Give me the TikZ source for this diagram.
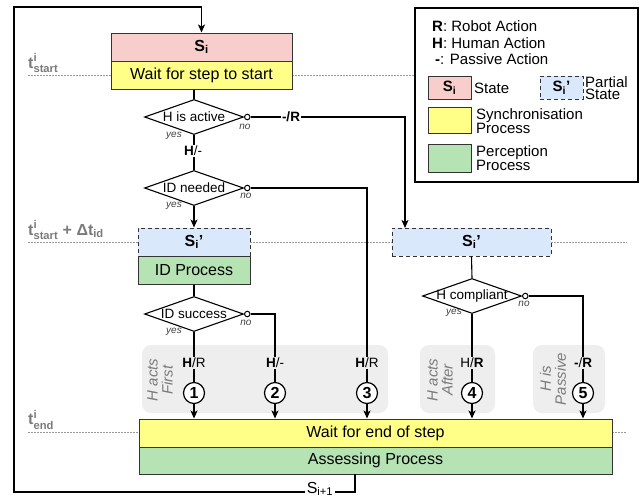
\documentclass[tikz,border=0pt]{standalone}
\usepackage{fontspec}
\setmainfont{Liberation Sans}
\usepackage{amsmath}
\usetikzlibrary{shapes.geometric,arrows.meta}
\definecolor{pinkc}{HTML}{F8CECC}
\definecolor{yelc}{HTML}{FFFF88}
\definecolor{grnc}{HTML}{B5E3B4}
\definecolor{bluec}{HTML}{DAE8FC}
\definecolor{areac}{HTML}{EEEEEE}
\definecolor{tgrey}{HTML}{7A7A7A}
\definecolor{dotc}{HTML}{999999}
\newcommand{\fs}[1]{\fontsize{#1}{#1}\selectfont}
\begin{document}
\begin{tikzpicture}[x=1pt,y=-1pt,
  box/.style={draw=black!80, line width=1pt, inner sep=0pt, minimum height=28pt, font=\fs{16}},
  dbox/.style={box, dash pattern=on 4pt off 3pt, fill=bluec},
  dia/.style={diamond, draw, line width=1.1pt, fill=white, minimum width=99pt, minimum height=35pt, inner sep=0pt, aspect=2.8},
  oc/.style={circle, draw, line width=1pt, fill=white, minimum size=5.5pt, inner sep=0pt},
  ln/.style={line width=1.1pt, draw=black},
  arr/.style={ln, -{Stealth[length=8pt,width=7pt,inset=2pt]}},
  num/.style={circle, draw, line width=1.2pt, fill=white, minimum size=21pt, inner sep=0pt, font=\bfseries\fs{16}},
  area/.style={rounded corners=9pt, fill=areac, inner sep=0pt},
  lab/.style={font=\fs{13.5}, inner sep=1.5pt},
  yn/.style={font=\itshape\fs{10}, text=black!75, inner sep=0pt},
  rot/.style={rotate=90, align=center, font=\itshape\fontsize{15}{15}\selectfont, text=tgrey},
  tl/.style={font=\bfseries\fs{16}, text=tgrey, anchor=west, inner sep=0pt},
  dot/.style={draw=dotc, line width=0.9pt, dash pattern=on 1.5pt off 1.5pt},
  leg/.style={font=\fs{15}, anchor=west, inner sep=0pt, align=left}
]
\useasboundingbox (0,0) rectangle (641,496);

% grey areas
\node[area, minimum width=246pt, minimum height=68pt] (g1) at (265,379) {};
\node[area, minimum width=75pt, minimum height=68pt] (g2) at (457.5,379) {};
\node[area, minimum width=72pt, minimum height=68pt] (g3) at (569,379) {};

% dotted time lines
\draw[dot] (28,75) -- (111,75);
\draw[dot] (292,75) -- (415,75);
\draw[dot] (28,242) -- (138,242);
\draw[dot] (250,242) -- (392,242);
\draw[dot] (551,242) -- (627,242);
\draw[dot] (28,432) -- (139,432);
\draw[dot] (612,432) -- (627,432);

% time labels
\node[tl] (t1) at (28,63) {t$^{\text{i}}_{\text{start}}$};
\node[tl] (t2) at (28,230) {t$^{\text{i}}_{\text{start}}$ + Δt$_{\text{id}}$};
\node[tl] (t3) at (28,420) {t$^{\text{i}}_{\text{end}}$};

% top boxes
\node[box, fill=pinkc, minimum width=181pt] (si) at (201.5,47) {\bfseries S$_{\text{i}}$};
\node[box, fill=yelc, minimum width=181pt] (wy) at (201.5,75) {Wait for step to start};

% diamonds
\node[dia, label={[font=\fs{13.5}]center:H is active}] (d1) at (194,117) {};
\node[oc, anchor=west] (c1) at (d1.east) {};
\node[dia, label={[font=\fs{13.5}]center:ID needed}] (d2) at (194,188) {};
\node[oc, anchor=west] (c2) at (d2.east) {};

% left partial state
\node[dbox, minimum width=112pt] (ps1) at (194,242) {\bfseries S$_{\text{i}}$'};
\node[box, fill=grnc, minimum width=112pt] (ip) at (194,270) {ID Process};
\node[dia, label={[font=\fs{13.5}]center:ID success}] (d3) at (194,314) {};
\node[oc, anchor=west] (c3) at (d3.east) {};

% right partial state
\node[dbox, minimum width=159pt] (ps2) at (471.5,242) {\bfseries S$_{\text{i}}$'};
\node[dia, label={[font=\fs{13.5}]center:H compliant}] (d4) at (472,296) {};
\node[oc, anchor=west] (c4) at (d4.east) {};

% bottom boxes
\node[box, fill=yelc, minimum width=473pt] (wb) at (375.5,433) {Wait for end of step};
\node[box, fill=grnc, minimum width=473pt, minimum height=27pt] (wg) at (375.5,460.5) {Assessing Process};

% numbered circles
\node[num] (n1) at (194,393) {1};
\node[num] (n2) at (275,393) {2};
\node[num] (n3) at (367,393) {3};
\node[num] (n4) at (472,393) {4};
\node[num] (n5) at (583,393) {5};

% coordinates
\coordinate (a1) at (405,228);
\coordinate (b1) at (355,474);

% connectors
\draw[arr] (b1) -- (355,492) -- (14,492) -- (14,7) -- (201.5,7) -- (si.north);
\draw[ln] (wy.south -| d1.north) -- (d1.north);
\draw[ln] (d1.south) -- (d2.north);
\draw[arr] (d2.south) -- (ps1.north);
\draw[ln] (ip.south) -- (d3.north);
\draw[ln] (d3.south) -- (n1.north);
\draw[arr] (c1.east) -- (405,117) -- (a1);
\draw[ln] (c2.east) -| (n3.north);
\draw[ln] (c3.east) -| (n2.north);
\draw[ln] (ps2.south) -- (d4.north);
\draw[ln] (d4.south) -- (n4.north);
\draw[ln] (c4.east) -| (n5.north);
\foreach \n in {n1,n2,n3,n4,n5} \draw[arr] (\n.south) -- (\n.south |- wb.north);

% connector labels
\node[lab, fill=white] (l0) at (291,117) {\bfseries -/R};
\node[lab, fill=white] (l1) at (193,151) {\textbf{H}/-};
\node[lab, fill=areac] (l2) at (194,363) {\textbf{H}/R};
\node[lab, fill=areac] (l3) at (275,363) {\textbf{H}/-};
\node[lab, fill=areac] (l4) at (367,363) {\textbf{H}/R};
\node[lab, fill=areac] (l5) at (472,363) {H/\textbf{R}};
\node[lab, fill=areac] (l6) at (583,363) {\textbf{-}/\textbf{R}};
\node[font=\fs{16}, fill=white, inner sep=2pt] (sn) at (320,489) {S$_{\text{i+1}}$};

% yes / no
\node[yn] (y1) at (174,136) {yes};
\node[yn] (o1) at (245,127) {no};
\node[yn] (y2) at (174,206) {yes};
\node[yn] (o2) at (246,196) {no};
\node[yn] (y3) at (174,332) {yes};
\node[yn] (o3) at (246,323) {no};
\node[yn] (y4) at (454,313) {yes};
\node[yn] (o4) at (524,304) {no};

% rotated group labels
\node[rot] (r1) at (160,380) {H acts\\First};
\node[rot] (r2) at (440,380) {H acts\\After};
\node[rot] (r3) at (553,379) {H is\\Passive};

% legend
\node[draw, line width=2pt, minimum width=223pt, minimum height=174pt, inner sep=0pt] (lg) at (526.5,95) {};
\node[leg] (lt1) at (432,26) {\textbf{R}: Robot Action};
\node[leg] (lt2) at (432,43) {\textbf{H}: Human Action};
\node[leg] (lt3) at (435,59) {\textbf{-}: Passive Action};
\node[box, fill=pinkc, minimum width=43pt, minimum height=23pt, font=\fs{15}] (lp) at (449.5,87.5) {\bfseries S$_{\text{i}}$};
\node[leg] (lt4) at (474,88) {State};
\node[dbox, minimum width=43pt, minimum height=23pt, font=\fs{15}] (lb) at (561.5,87.5) {\bfseries S$_{\text{i}}$'};
\node[leg, font=\fontsize{15}{12.5}\selectfont] (lt5) at (585,88) {Partial\\State};
\node[box, fill=yelc, minimum width=43pt, minimum height=26pt] (ly) at (449.5,120) {};
\node[leg, font=\fontsize{15}{12.5}\selectfont] (lt6) at (476,121) {Synchronisation\\Process};
\node[box, fill=grnc, minimum width=43pt, minimum height=28pt] (lgn) at (449.5,158) {};
\node[leg, font=\fontsize{15}{12.5}\selectfont] (lt7) at (476,158) {Perception\\Process};
\end{tikzpicture}
\end{document}
